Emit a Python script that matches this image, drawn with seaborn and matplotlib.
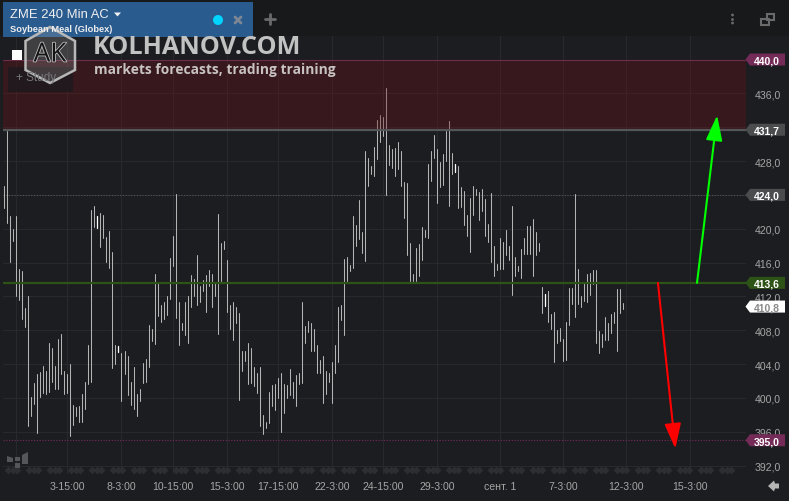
import matplotlib
matplotlib.use("Agg")
import matplotlib.pyplot as plt
import matplotlib.patheffects as pe
from matplotlib.patches import Polygon, Rectangle, Circle
import pandas as pd
import seaborn as sns

# 4h bars
bar_high = [
    425.0, 431.5, 421.5, 420.0, 421.5, 415.2, 415.0, 410.6, 412.0, 400.1,
    401.8, 402.8, 403.1, 403.8, 403.2, 406.5, 405.9, 403.8, 407.0, 407.6,
    403.2, 402.8, 404.0, 399.2, 398.9, 399.1, 400.5, 401.9, 406.2, 422.2,
    422.7, 421.5, 421.9, 421.6, 419.0, 419.7, 417.3, 406.2, 406.1, 405.3,
    405.6, 405.0, 401.9, 403.7, 400.5, 401.0, 404.1, 404.6, 408.6, 408.1,
    414.6, 413.6, 411.0, 411.3, 412.1, 416.5, 419.1, 424.1, 411.3, 408.8,
    411.3, 412.0, 414.5, 414.1, 416.9, 413.2, 413.9, 414.5, 415.1, 414.7,
    413.7, 421.8, 418.3, 418.6, 416.3, 411.0, 411.3, 410.8, 410.0, 405.6,
    405.6, 406.5, 405.9, 403.7, 403.0, 403.6, 398.0, 397.1, 400.7, 401.5,
    401.6, 402.4, 403.0, 401.7, 401.5, 403.4, 401.9, 402.7, 403.0, 411.3,
    408.5, 409.1, 408.9, 408.1, 406.2, 404.5, 404.9, 403.2, 403.0, 404.3,
    406.2, 410.8, 411.0, 416.4, 416.6, 415.7, 421.5, 420.4, 423.4, 419.6,
    429.2, 428.4, 427.4, 429.7, 432.9, 433.4, 433.2, 436.6, 429.9, 429.4,
    429.5, 430.3, 429.2, 425.5, 425.4, 418.3, 414.6, 417.7, 418.2, 420.2,
    419.8, 427.6, 429.2, 431.1, 429.4, 427.9, 428.8, 431.5, 432.7, 428.9,
    427.6, 427.4, 424.9, 424.5, 421.6, 423.6, 425.0, 424.7, 424.4, 424.7,
    423.5, 420.6, 424.2, 418.0, 415.8, 418.9, 418.4, 419.8, 418.0, 422.7,
    416.7, 415.6, 417.6, 418.9, 420.3, 420.3, 421.2, 419.6, 418.3, 413.1,
    412.3, 412.6, 409.9, 410.2, 408.0, 408.3, 407.0, 409.0, 413.0, 413.0,
    424.1, 415.2, 412.1, 413.6, 414.6, 414.8, 415.1, 415.1, 407.9, 407.6,
    409.6, 408.9, 409.9, 410.2, 412.9, 412.9, 411.2,
]
bar_low = [
    422.4, 420.7, 416.1, 418.5, 412.1, 411.6, 409.3, 408.4, 396.7, 397.9,
    399.3, 395.8, 400.1, 400.6, 400.5, 400.7, 401.9, 401.0, 401.1, 402.8,
    400.5, 400.6, 395.5, 396.8, 397.9, 397.1, 397.1, 398.7, 401.6, 401.9,
    420.2, 420.1, 417.8, 418.9, 416.1, 415.4, 403.5, 404.0, 405.4, 399.6,
    402.8, 400.3, 399.2, 398.7, 397.9, 399.6, 401.8, 401.9, 403.6, 406.7,
    406.4, 409.7, 409.0, 409.3, 409.8, 411.7, 415.6, 409.4, 406.2, 408.0,
    407.4, 406.5, 410.7, 412.1, 411.0, 411.3, 412.6, 410.2, 413.2, 410.8,
    412.1, 407.6, 413.8, 417.6, 410.1, 408.2, 406.9, 408.8, 399.8, 403.2,
    404.4, 401.6, 401.8, 401.4, 400.6, 396.7, 395.7, 396.5, 397.0, 399.0,
    398.6, 400.0, 396.0, 398.2, 400.0, 400.3, 400.0, 399.0, 401.6, 401.8,
    406.5, 407.8, 405.6, 405.6, 402.9, 402.9, 399.4, 400.5, 401.9, 399.4,
    402.9, 404.3, 409.2, 407.4, 413.8, 415.0, 415.4, 418.0, 418.8, 417.1,
    416.2, 425.1, 426.5, 426.2, 428.2, 430.3, 431.0, 424.0, 427.5, 427.2,
    426.2, 427.1, 425.1, 421.3, 416.9, 413.8, 413.8, 413.8, 414.4, 416.3,
    419.0, 418.9, 425.6, 428.4, 423.0, 424.9, 425.2, 428.0, 422.7, 426.5,
    426.7, 422.5, 422.6, 420.4, 419.1, 417.3, 421.6, 424.0, 421.0, 422.1,
    419.1, 418.4, 416.1, 414.4, 415.1, 415.2, 415.2, 416.9, 416.3, 412.2,
    414.4, 415.0, 414.2, 417.0, 417.0, 417.0, 414.4, 416.9, 417.4, 410.0,
    410.9, 409.0, 408.1, 404.2, 406.5, 406.7, 404.4, 404.5, 408.6, 411.1,
    409.6, 411.1, 410.8, 411.5, 411.3, 412.2, 413.5, 406.5, 405.3, 406.0,
    406.9, 406.9, 407.7, 408.8, 405.6, 410.0, 410.5,
]
doji_bars = [31, 38, 150, 180]

y_ticks = [392, 396, 400, 404, 408, 412, 416, 420, 428, 436]
y_grid_only = [424, 432, 440]
x_ticks = [4, 21, 39, 56, 74, 91, 109, 126, 144, 165, 186, 207, 228]
x_labels = ["", "3-15:00", "8-3:00", "10-15:00", "15-3:00", "17-15:00", "22-3:00",
            "24-15:00", "29-3:00", "сент. 1", "7-3:00", "12-3:00", "15-3:00"]

zone_low, zone_high = 431.7, 440.0
level_mid = 424.0
level_pivot = 413.6
level_target = 395.0
last_price = 410.8

W, H = 789, 502
BG = "#1c1d21"
TOP = "#18191b"
GRID = "#28292c"
MAROON = "#752b58"
GREY_TAG = "#4b4c4e"
GREEN = "#2d5316"

sns.set_theme(style="dark", rc={"axes.facecolor": BG, "figure.facecolor": BG})
plt.rcParams["font.family"] = ["Liberation Sans", "DejaVu Sans"]

fig = plt.figure(figsize=(W / 100, H / 100), dpi=100)
ax = fig.add_axes([3 / W, (H - 475) / H, 743 / W, 438 / H])

long_bars = pd.DataFrame({"bar": list(range(len(bar_high))) * 2, "price": bar_high + bar_low})
is_doji = long_bars["bar"].isin(doji_bars)
sns.lineplot(data=long_bars[~is_doji], x="bar", y="price", units="bar", estimator=None,
             color="#b4b4b4", linewidth=0.75, legend=False, ax=ax, zorder=3)
sns.lineplot(data=long_bars[is_doji], x="bar", y="price", units="bar", estimator=None,
             color="#ffffff", linewidth=0.9, legend=False, ax=ax, zorder=3)

ax.set_xlim(-0.43, 246.8)
ax.set_ylim(391.01, 442.78)
ax.set_xlabel("")
ax.set_ylabel("")
ax.set_xticks(x_ticks)
ax.set_xticklabels(x_labels)
ax.set_yticks(y_ticks)
ax.set_yticklabels([f"{t},0" for t in y_ticks])
ax.set_yticks(y_grid_only, minor=True)
ax.yaxis.tick_right()
ax.tick_params(axis="both", which="both", length=0)
ax.tick_params(axis="both", labelsize=7.6, labelcolor="#a6a6a6")
ax.tick_params(axis="y", pad=6)
ax.tick_params(axis="x", pad=5)
ax.grid(True, which="both", color=GRID, linewidth=0.8)
ax.set_axisbelow(True)
sns.despine(ax=ax, left=True, bottom=True, right=True, top=True)

# resistance zone sits over the bars, they show through pink
ax.axhspan(zone_low, zone_high, color="#6c1115", alpha=0.35, linewidth=0, zorder=4)
ax.axhline(zone_high, color="#6b2d4a", linewidth=0.8, zorder=5)
ax.axhline(zone_low, color="#55565a", linewidth=1.6, zorder=5)
ax.axhline(level_mid, color="#55565a", linewidth=0.8, linestyle=(0, (1, 1.5)), zorder=2)
ax.axhline(level_pivot, color=GREEN, linewidth=1.6, zorder=5)
ax.axhline(level_target, color=MAROON, linewidth=0.8, linestyle=(0, (1, 1.5)), zorder=2)

ax.annotate("", xy=(237.2, 433.4), xytext=(230.5, level_pivot), zorder=6,
            arrowprops=dict(arrowstyle="-|>,head_length=1.1,head_width=0.36", color="#00ff00",
                            linewidth=1.5, shrinkA=0, shrinkB=0, mutation_scale=14))
ax.annotate("", xy=(223.3, 394.0), xytext=(217.5, level_pivot), zorder=6,
            arrowprops=dict(arrowstyle="-|>,head_length=1.1,head_width=0.36", color="#ff0000",
                            linewidth=1.5, shrinkA=0, shrinkB=0, mutation_scale=14))

# overlay in pixels for the platform chrome
ui = fig.add_axes([0, 0, 1, 1], zorder=10)
ui.set_xlim(0, W)
ui.set_ylim(H, 0)
ui.axis("off")
ui.patch.set_alpha(0)


def price_tag(price, text, fill, text_color="white"):
    y = H - ax.transData.transform((0, price))[1]
    ui.add_patch(Polygon([(745.5, y), (750, y - 6), (785, y - 6), (785, y + 6), (750, y + 6)],
                         closed=True, facecolor=fill, edgecolor="none"))
    ui.text(767, y, text, color=text_color, fontsize=7.5, fontweight="bold",
            ha="center", va="center_baseline")


price_tag(zone_high, "440,0", MAROON)
price_tag(zone_low, "431,7", GREY_TAG)
price_tag(level_mid, "424,0", GREY_TAG)
price_tag(level_pivot, "413,6", GREEN)
price_tag(level_target, "395,0", MAROON)
price_tag(last_price, "410,8", "white", "#8a8a8a")

# top bar and tab
ui.add_patch(Rectangle((0, 0), W, 37, facecolor=TOP, edgecolor="none", zorder=0))
ui.add_patch(Rectangle((3, 3), 250, 35, facecolor="#2a5b8f", edgecolor="none"))
ui.text(10, 15.5, "ZME 240 Min AC", color="#f0f0f0", fontsize=9.4, va="center")
ui.add_patch(Polygon([(114, 13.5), (121, 13.5), (117.5, 17.5)], facecolor="#f0f0f0", edgecolor="none"))
ui.text(10.5, 29, "Soybean Meal (Globex)", color="#eeeeee", fontsize=6.7, fontweight="bold", va="center")
ui.add_patch(Circle((218, 21), 5, facecolor="#00d4ff", edgecolor="none"))
ui.plot([235, 241], [18, 24], color="#7d8794", linewidth=2)
ui.plot([235, 241], [24, 18], color="#7d8794", linewidth=2)
ui.plot([265.5, 275], [20, 20], color="#6a6a6a", linewidth=2)
ui.plot([270.2, 270.2], [15, 25], color="#6a6a6a", linewidth=2)
for dot_y in (16, 20.5, 24):
    ui.add_patch(Circle((732.5, dot_y), 1.4, facecolor="#6a6a6a", edgecolor="none"))
ui.add_patch(Rectangle((761, 20), 8, 6, facecolor="none", edgecolor="#6a6a6a", linewidth=1.5))
ui.add_patch(Rectangle((767, 15), 7, 6, facecolor="none", edgecolor="#6a6a6a", linewidth=1.5))

# study widget under the watermark
ui.add_patch(Rectangle((8, 68), 65, 25, facecolor="#1f1a1e", edgecolor="none", alpha=0.9))
ui.add_patch(Rectangle((12.5, 51), 10, 10, facecolor="white", edgecolor="none"))
ui.text(16, 77.5, "+ Study", color="#77777a", fontsize=8.5, va="center")

# watermark
hexagon = [(50, 28), (75, 42), (75, 71), (50, 84), (25.5, 71), (25.5, 42)]
ui.add_patch(Polygon(hexagon, closed=True, facecolor="#a8a8a8", alpha=0.25, edgecolor="none"))
ui.add_patch(Polygon(hexagon, closed=True, facecolor="none", edgecolor="#b8b8b8", linewidth=1.8))
ui.text(50, 56, "AK", color="#141414", fontsize=19, ha="center", va="center", family="Open Sans",
        path_effects=[pe.withStroke(linewidth=1.2, foreground="#bdbdbd")])
ui.text(93, 48, "KOLHANOV.COM", color="#c2c2c2", fontsize=18.2, fontweight="bold",
        family="Open Sans", va="center")
ui.text(94, 70, "markets forecasts, trading training", color="#c8c2c2", fontsize=9.9,
        fontweight="bold", family="Open Sans", va="center")

# navigator strip at the bottom
group_centers = range(35)
for g in group_centers:
    cx = 12.7 + 21 * g
    ui.scatter([cx - 4.5, cx + 0.5, cx + 4.5], [471, 471, 471], marker="D", s=16,
               color="#2d2e31", linewidths=0, zorder=1)
ui.add_patch(Polygon([(7, 457), (13, 459), (13, 463), (7, 463)], facecolor="#55565a", edgecolor="none"))
ui.add_patch(Rectangle((15, 458), 5, 4, facecolor="#55565a", edgecolor="none"))
ui.add_patch(Rectangle((15, 464), 5, 5, facecolor="#55565a", edgecolor="none"))
ui.add_patch(Polygon([(22, 456), (28, 453), (28, 465), (22, 465)], facecolor="#55565a", edgecolor="none"))
ui.add_patch(Polygon([(768, 487), (774, 481.5), (775, 484.5), (779, 484.5), (779, 489.5), (775, 489.5),
                      (774, 492.5)], facecolor="#b5b5b5", edgecolor="none"))

fig.savefig("out.png", dpi=100, facecolor=BG)
